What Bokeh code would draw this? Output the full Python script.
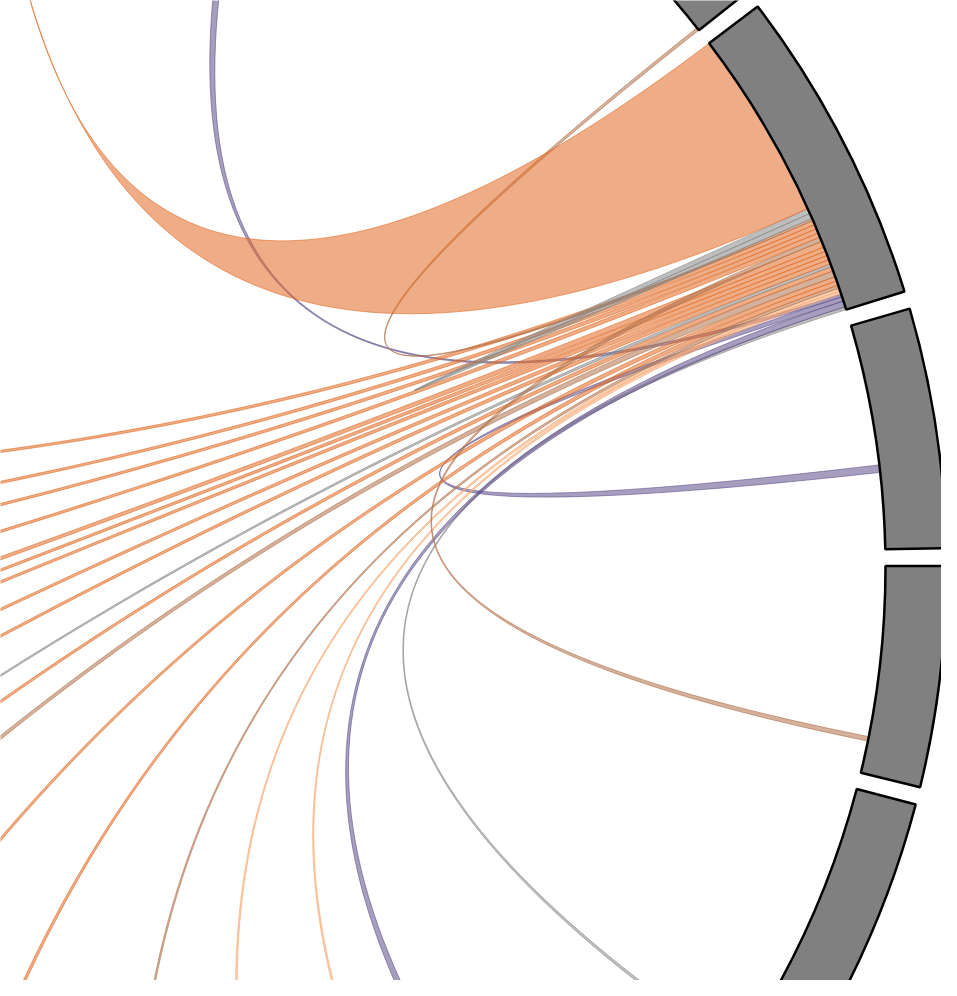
import numpy as np
from bokeh.plotting import figure
from bokeh.models import ColumnDataSource, Range1d
from bokeh.embed import file_html
from bokeh.resources import INLINE

# nodes around the circle, anticlockwise, arc size in flow units
node_names = ["D", "C", "B", "A", "F", "G", "H", "I", "J", "K", "L", "E"]
node_values = [138, 150, 199, 236, 220, 318, 409, 439, 339, 439, 289, 292]

# chords: node, start offset inside the node and width (flow units) at both ends
chord_src = ["B"] * 25
chord_src_at = [0, 2, 6, 9, 11, 13, 15, 17, 20, 23, 27, 30, 32, 35, 38, 41, 44, 48,
                51, 54, 57, 60, 63, 64.5, 71.5]
chord_src_w = [2, 4, 3, 2, 2, 2, 2, 3, 3, 4, 3, 2, 3, 3, 3, 3, 4, 3,
               3, 3, 3, 3, 1.5, 3.5, 127.5]
chord_tgt = ["E", "L", "C", "F", "L", "L", "K", "K", "K", "J", "J", "J", "J", "J",
             "I", "I", "I", "D", "I", "I", "I", "I", "A", "B", "G"]
chord_tgt_at = [99, 227, 51, 97, 159, 39, 379, 208.5, 58.5, 268, 208.5, 162, 83.5, 28.5,
                418.5, 393.5, 368, 21.5, 308.5, 243.5, 188.5, 108.5, 0, 68, 58]
chord_tgt_w = [2, 6, 5, 6, 2, 2, 2, 3, 3, 4, 3, 2, 3, 3, 3, 3, 4, 3,
               3, 3, 3, 3, 2, 3.5, 2]
chord_kind = ["gray", "purple", "purple", "purple", "light", "light", "tan", "orange",
              "orange", "tan", "orange", "gray", "orange", "orange", "orange", "orange",
              "orange", "tan", "orange", "orange", "orange", "orange", "tan", "gray",
              "orange"]

kind_colors = {"orange": "#e06a23", "light": "#f9a870", "gray": "#898989",
               "purple": "#5e4f8a", "tan": "#b0714a"}

# layout
r_in, r_out = 867, 928
gap = 1.1
start_deg = -13.7
deg_per_unit = (360 - gap * len(node_names)) / sum(node_values)

node_start, node_end = {}, {}
a = start_deg
for name, v in zip(node_names, node_values):
    node_start[name] = a
    node_end[name] = a + v * deg_per_unit
    a = node_end[name] + gap


def ang(node, offset):
    return np.radians(node_start[node] + offset * deg_per_unit)


def arc(t0, t1, n=30):
    t = np.linspace(t0, t1, n)
    return r_in * np.cos(t), r_in * np.sin(t)


def bezier(t0, t1, n=80):
    # quadratic curve through the centre
    s = np.linspace(0, 1, n)
    x = (1 - s) ** 2 * r_in * np.cos(t0) + s ** 2 * r_in * np.cos(t1)
    y = (1 - s) ** 2 * r_in * np.sin(t0) + s ** 2 * r_in * np.sin(t1)
    return x, y


xs, ys, colors = [], [], []
for i in range(len(chord_src)):
    a0 = ang(chord_src[i], chord_src_at[i])
    a1 = ang(chord_src[i], chord_src_at[i] + chord_src_w[i])
    b0 = ang(chord_tgt[i], chord_tgt_at[i])
    b1 = ang(chord_tgt[i], chord_tgt_at[i] + chord_tgt_w[i])
    parts = [arc(a0, a1), bezier(a1, b0), arc(b0, b1), bezier(b1, a0)]
    xs.append(np.concatenate([q[0] for q in parts]).tolist())
    ys.append(np.concatenate([q[1] for q in parts]).tolist())
    colors.append(kind_colors[chord_kind[i]])

chords = ColumnDataSource(dict(xs=xs, ys=ys, color=colors))
nodes = ColumnDataSource(dict(
    name=node_names,
    start=[np.radians(node_start[n]) for n in node_names],
    end=[np.radians(node_end[n]) for n in node_names],
))

p = figure(width=941, height=980, x_range=Range1d(-18, 923), y_range=Range1d(-413, 567),
           output_backend="svg", toolbar_location=None, min_border=0,
           x_axis_type=None, y_axis_type=None)
p.grid.visible = False
p.outline_line_color = None
p.background_fill_color = "white"

p.patches("xs", "ys", source=chords, fill_color="color", fill_alpha=0.55,
          line_color="color", line_alpha=0.85, line_width=0.7)
p.annular_wedge(x=0, y=0, inner_radius=r_in, outer_radius=r_out,
                start_angle="start", end_angle="end", source=nodes,
                fill_color="#808080", line_color="black", line_width=2.5)

open("out.html", "w").write(file_html(p, INLINE))
